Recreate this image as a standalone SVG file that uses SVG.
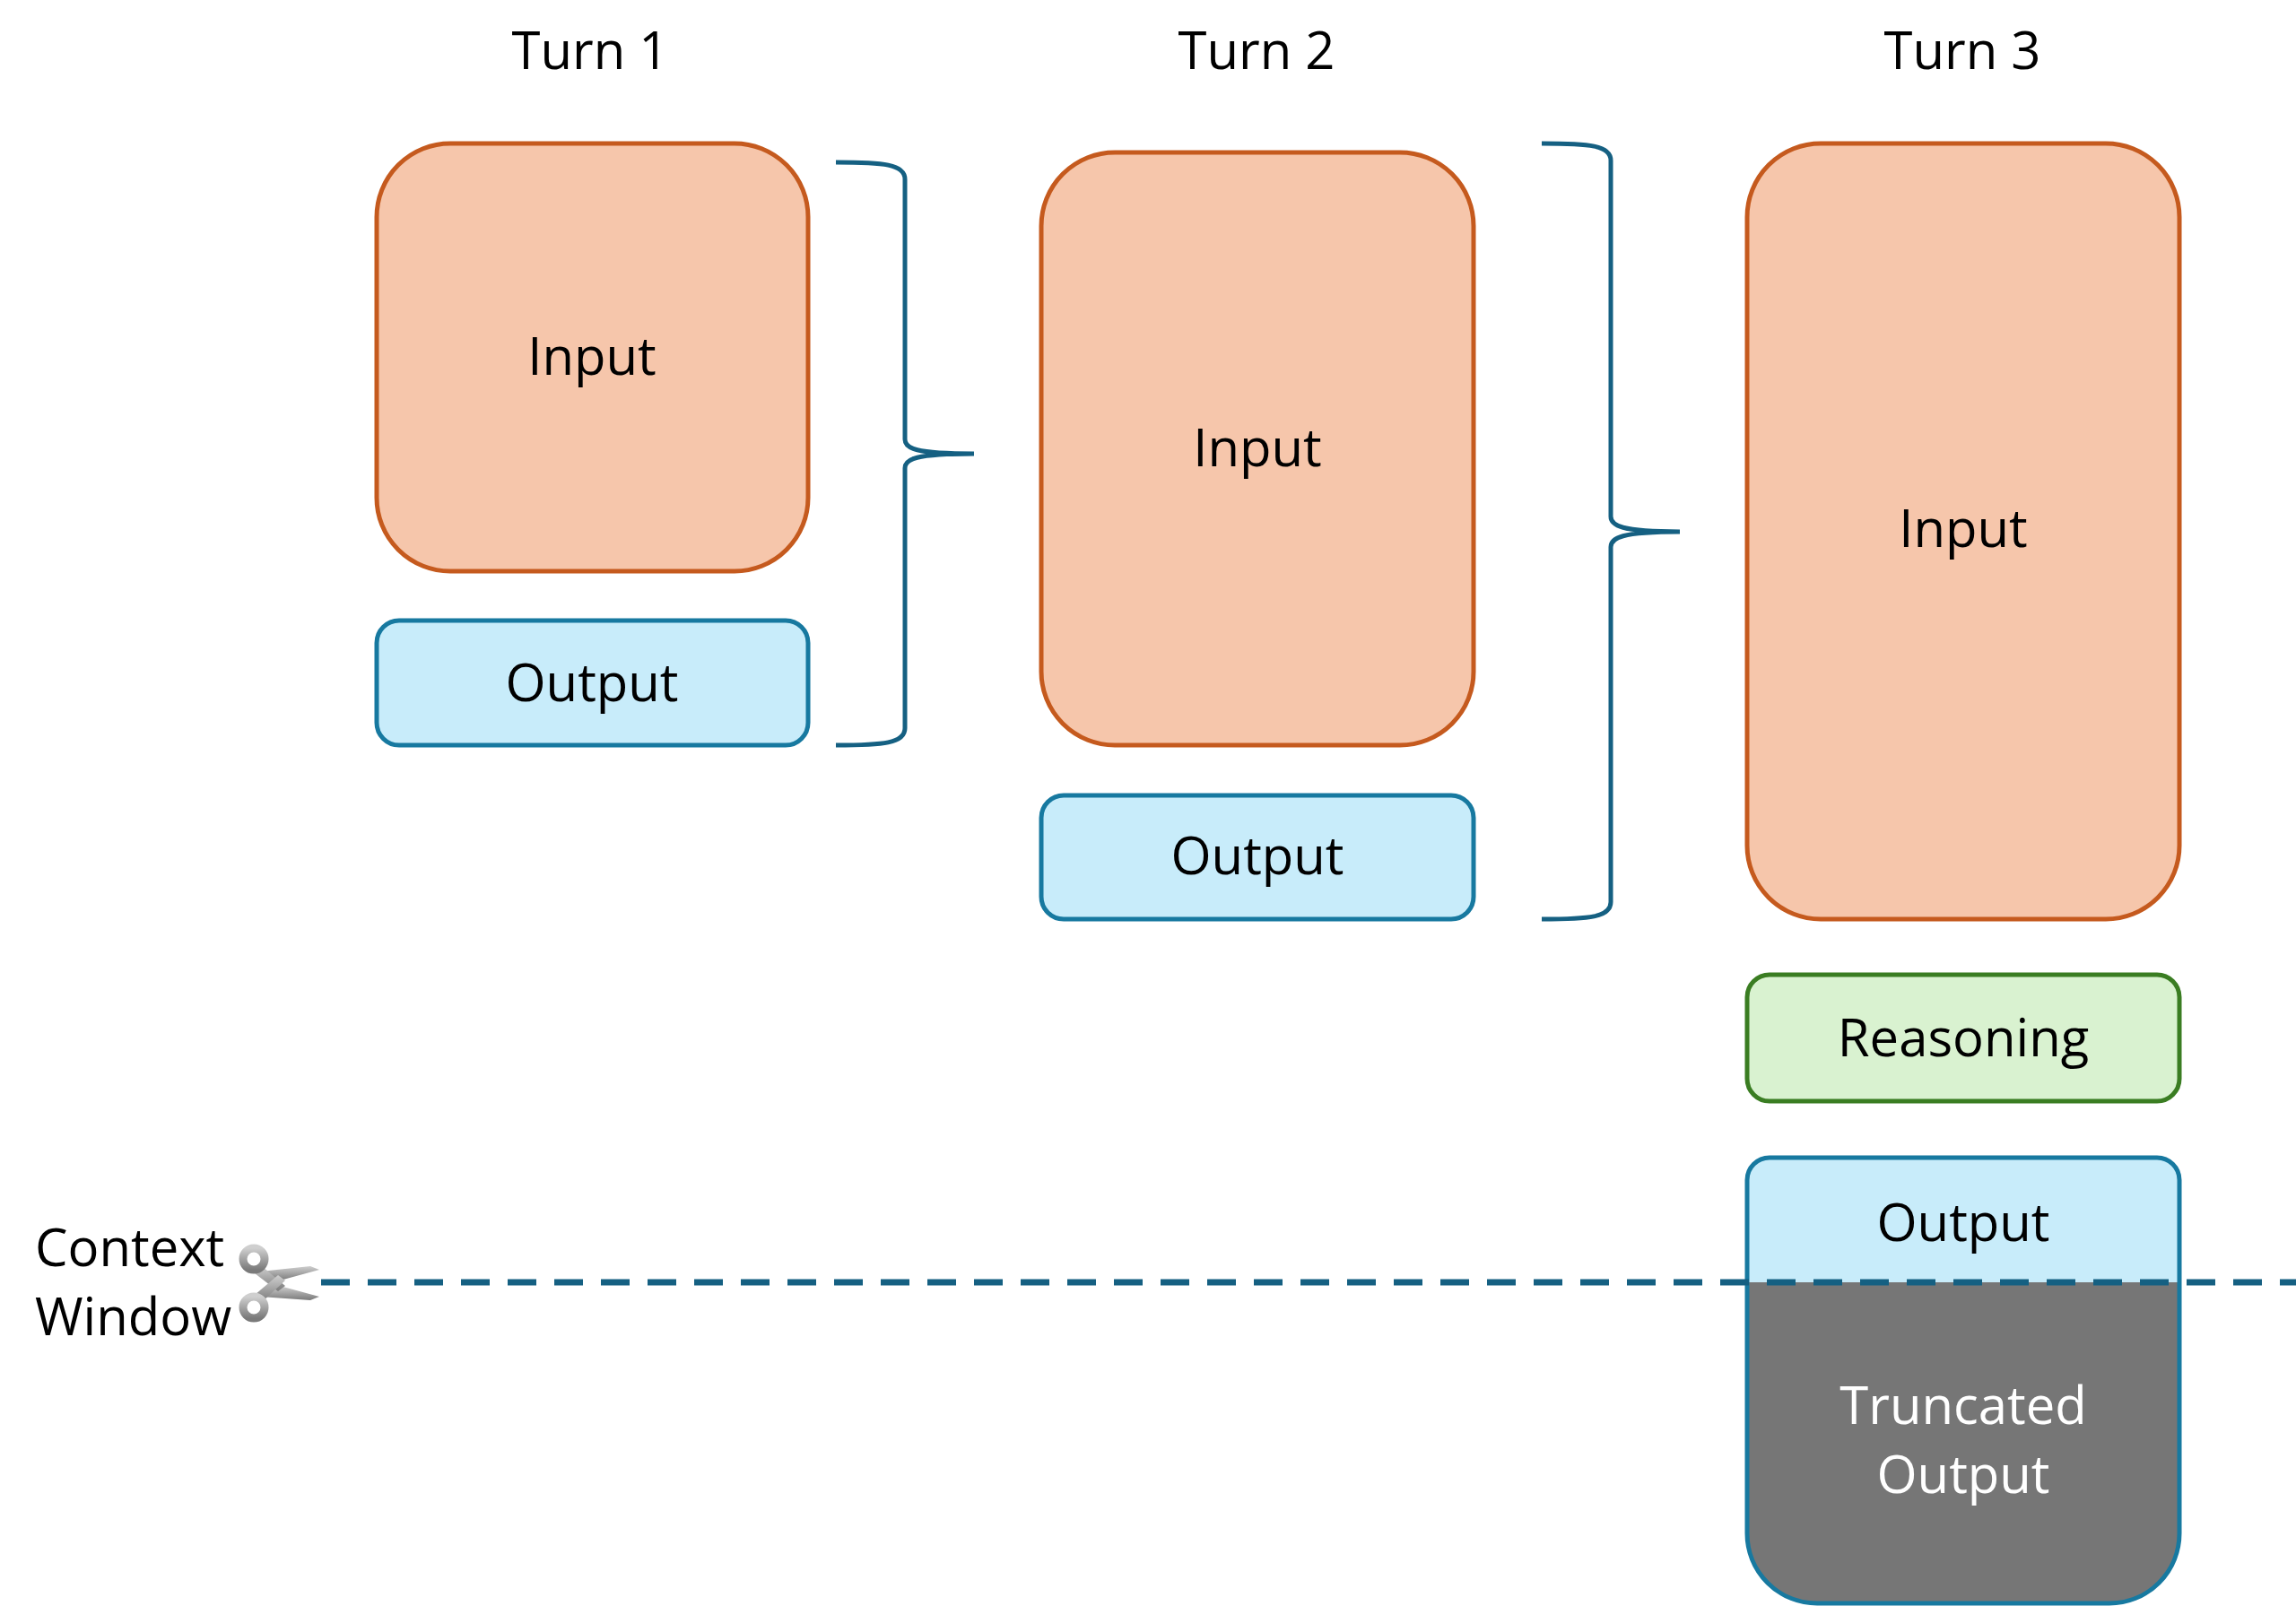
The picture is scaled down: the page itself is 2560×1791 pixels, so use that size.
<svg xmlns="http://www.w3.org/2000/svg" width="2560" height="1791" viewBox="0 0 2560 1791">
<defs>
<style>
text{font-family:"Open Sans","Liberation Sans",sans-serif;font-size:58px;fill:#000;text-anchor:middle}
.in{fill:#F6C6AB;stroke:#C55A1E;stroke-width:5}
.out{fill:#C8ECFA;stroke:#1779A0;stroke-width:5}
.rs{fill:#D9F2D0;stroke:#3A7D22;stroke-width:5}
.br{fill:none;stroke:#156082;stroke-width:5}
</style>
<linearGradient id="sg" x1="0" y1="0" x2="0" y2="1"><stop offset="0" stop-color="#cfcfcf"/><stop offset="1" stop-color="#7a7a7a"/></linearGradient>
</defs>
<rect width="2560" height="1791" fill="#fff"/>
<text x="658" y="77">Turn 1</text>
<text x="1401" y="77">Turn 2</text>
<text x="2188" y="77">Turn 3</text>
<g id="t1in"><rect class="in" x="420" y="160" width="481" height="477" rx="82"/><text x="660" y="418">Input</text></g>
<g id="t1out"><rect class="out" x="420" y="692" width="481" height="139" rx="25"/><text x="660" y="782">Output</text></g>
<g id="t2in"><rect class="in" x="1161" y="170" width="482" height="661" rx="82"/><text x="1402" y="520">Input</text></g>
<g id="t2out"><rect class="out" x="1161" y="887" width="482" height="138" rx="25"/><text x="1402" y="975">Output</text></g>
<g id="t3in"><rect class="in" x="1948" y="160" width="482" height="865" rx="82"/><text x="2189" y="610">Input</text></g>
<g id="t3rs"><rect class="rs" x="1948" y="1087" width="482" height="141" rx="25"/><text x="2189" y="1178">Reasoning</text></g>
<g id="t3out">
<path d="M1948,1430 V1316 a25,25 0 0 1 25,-25 H2405 a25,25 0 0 1 25,25 V1430 Z" fill="#C8ECFA"/>
<path d="M1948,1430 V1710 a78,78 0 0 0 78,78 H2352 a78,78 0 0 0 78,-78 V1430 Z" fill="#767676"/>
<path d="M1948,1430 V1316 a25,25 0 0 1 25,-25 H2405 a25,25 0 0 1 25,25 V1710 a78,78 0 0 1 -78,78 H2026 a78,78 0 0 1 -78,-78 Z" fill="none" stroke="#1779A0" stroke-width="5"/>
<text x="2189" y="1384">Output</text>
<text x="2189" y="1588" style="fill:#fff">Truncated</text>
<text x="2189" y="1665" style="fill:#fff">Output</text>
</g>
<g id="connectors">
<path class="br" d="M932,181 C985,181 1009,183 1009,200 V490 C1009,500 1020,506 1086,506 C1020,506 1009,512 1009,522 V812 C1009,829 985,831 932,831"/>
<path class="br" d="M1719,160 C1772,160 1796,162 1796,179 V576 C1796,586 1807,593 1873,593 C1807,593 1796,600 1796,610 V1006 C1796,1023 1772,1025 1719,1025"/>
<line x1="358" y1="1430" x2="2560" y2="1430" stroke="#156082" stroke-width="7" stroke-dasharray="32,20"/>
</g>
<g id="context">
<text x="39" y="1412" style="text-anchor:start">Context</text>
<text x="39" y="1489" style="text-anchor:start">Window</text>
<g id="scissors" fill="url(#sg)">
<path d="M290,1418 L312,1428 L356,1416 L346,1412 Z"/>
<path d="M290,1446 L312,1434 L356,1446 L346,1450 Z"/>
<path d="M292,1412 L318,1434 L310,1440 L284,1420 Z"/>
<path d="M292,1452 L318,1428 L310,1422 L284,1444 Z"/>
<circle cx="283" cy="1404" r="12" fill="none" stroke="url(#sg)" stroke-width="9"/>
<circle cx="283" cy="1458" r="12" fill="none" stroke="url(#sg)" stroke-width="9"/>
</g>
</g>
</svg>
